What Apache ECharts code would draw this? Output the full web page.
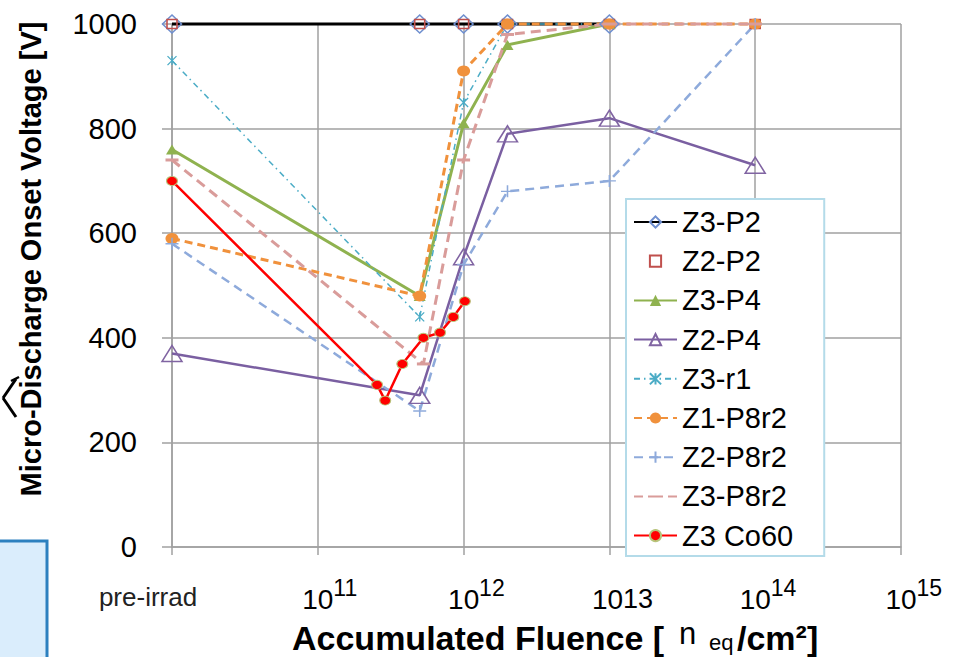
<!DOCTYPE html>
<html>
<head>
<meta charset="utf-8">
<script src="https://cdn.jsdelivr.net/npm/echarts@6/dist/echarts.min.js"></script>
<style>
  html, body { margin: 0; padding: 0; background: #fff; }
  #chart { width: 956px; height: 657px; }
</style>
</head>
<body>
<div id="chart"></div>
<script>
// Fluence used for the un-irradiated reference measurement (left edge of the log axis)
const PRE = 1e10;
const preLabel = 'pre-irrad';

// Sample names (legend order)
const seriesNames = ['Z3-P2', 'Z2-P2', 'Z3-P4', 'Z2-P4', 'Z3-r1', 'Z1-P8r2', 'Z2-P8r2', 'Z3-P8r2', 'Z3 Co60'];

// [accumulated fluence (n_eq/cm²), micro-discharge onset voltage (V)]
const z3p2   = [[PRE, 1000], [5e11, 1000], [1e12, 1000], [2e12, 1000], [1e13, 1000]];
const z2p2   = [[PRE, 1000], [5e11, 1000], [1e12, 1000], [2e12, 1000], [1e13, 1000], [1e14, 1000]];
const z3p4   = [[PRE, 760], [5e11, 480], [1e12, 810], [2e12, 960], [1e13, 1000]];
const z2p4   = [[PRE, 370], [5e11, 290], [1e12, 555], [2e12, 790], [1e13, 820], [1e14, 730]];
const z3r1   = [[PRE, 930], [5e11, 440], [1e12, 850], [2e12, 1000], [1e13, 1000]];
const z1p8r2 = [[PRE, 590], [5e11, 480], [1e12, 910], [2e12, 1000], [1e13, 1000], [1e14, 1000]];
const z2p8r2 = [[PRE, 580], [5e11, 260], [1e12, 540], [2e12, 680], [1e13, 700], [1e14, 1000]];
const z3p8r2 = [[PRE, 740], [5.3e11, 350], [1e12, 740], [2e12, 980], [1e13, 1000], [1e14, 1000]];
const z3co60 = [[PRE, 700], [2.55e11, 310], [2.9e11, 280], [3.8e11, 350], [5.3e11, 400], [6.9e11, 410], [8.5e11, 440], [1.02e12, 470]];

// Voltage axis range
const voltMin = 0, voltMax = 1000, voltStep = 200;

const FONT = '"Liberation Sans", Arial, sans-serif';
const GRID = '#a0a0a0';

// Marker outlines
const ASTERISK = 'path://M0,0L10,10M10,0L0,10M5,0L5,10';
const PLUS = 'path://M0,5L10,5M5,0L5,10';
const DASH = 'path://M0,0H10V2H0Z';
// Legend swatch for the dashed pink series: dashes with a slightly longer centre mark
const DASHED_SWATCH = 'path://M0,0H9V2H0Z M14,0H29V2H14Z M34,0H43V2H34Z';

function lineSeries(name, data, lineColor, width, type, symbol, size, item) {
  return {
    name: name,
    type: 'line',
    data: data,
    clip: false,
    showSymbol: true,
    symbol: symbol,
    symbolSize: size,
    lineStyle: { color: lineColor, width: width, type: type },
    itemStyle: item,
    emphasis: { disabled: true }
  };
}

const legendItems = seriesNames.map(function (n) {
  return n === 'Z3-P8r2' ? { name: n, icon: DASHED_SWATCH } : { name: n };
});

// Empty spacer token used to line up the multi-row (super/subscript) labels
function spacer(w, lh) {
  return { width: w, lineHeight: lh, fontSize: 1, align: 'left' };
}

const chart = echarts.init(document.getElementById('chart'), null, { renderer: 'svg' });

chart.setOption({
  animation: false,
  backgroundColor: '#fff',
  grid: { left: 172, right: 55, top: 24, bottom: 110, outerBoundsMode: 'none', containLabel: false },
  legend: {
    data: legendItems,
    orient: 'vertical',
    left: 626,
    top: 199,
    itemWidth: 43,
    itemHeight: 14,
    itemGap: 10.2,
    padding: [8.5, 31, 6, 7],
    backgroundColor: '#fff',
    borderColor: '#b4dbe9',
    borderWidth: 2,
    textStyle: { fontFamily: FONT, fontSize: 29, lineHeight: 29, color: '#000' }
  },
  xAxis: {
    type: 'log',
    logBase: 10,
    min: PRE,
    max: 1e15,
    splitNumber: 5,
    axisLine: { show: true, lineStyle: { color: GRID, width: 1.5 } },
    axisTick: { show: true, length: 8, lineStyle: { color: GRID, width: 1.5 } },
    splitLine: { show: true, lineStyle: { color: GRID, width: 1.5 } },
    minorTick: { show: false },
    axisLabel: {
      margin: 36,
      color: '#000',
      fontFamily: FONT,
      showMinLabel: true,
      showMaxLabel: true,
      hideOverlap: false,
      formatter: function (v) {
        const e = Math.round(Math.log10(v));
        if (e === 10) return '{pre|' + preLabel + '}{padR|}';
        if (e === 13) return '{padL|}{w10|}{wsupB|}\n{padL|}{base|10}{supB|13}';
        return '{padL|}{w10|}{sup|' + e + '}\n{padL|}{base|10}{wsup|}';
      },
      rich: {
        pre: { fontFamily: FONT, fontSize: 26, lineHeight: 28, color: '#222', align: 'left' },
        padR: spacer(48, 10),
        padL: spacer(26, 10),
        w10: spacer(31, 10),
        wsup: spacer(26, 10),
        wsupB: spacer(30, 10),
        base: { fontFamily: FONT, fontSize: 28, lineHeight: 12, width: 31, color: '#000', align: 'left' },
        sup: { fontFamily: FONT, fontSize: 23, lineHeight: 10, width: 26, color: '#000', align: 'left' },
        supB: { fontFamily: FONT, fontSize: 27, lineHeight: 12, width: 30, color: '#000', align: 'left' }
      }
    },
    name: '{s1|}{n|n}{s2|}\n{b|Accumulated Fluence [}{s3|}{s4|}{t|/cm²]}\n{s5|}{sub|eq}{s6|}',
    nameLocation: 'middle',
    nameGap: 86,
    nameTextStyle: {
      padding: [0, 0, 0, 57],
      rich: {
        s1: spacer(387, 1),
        n: { fontFamily: FONT, fontSize: 31, lineHeight: 1, width: 30, color: '#000', align: 'left' },
        s2: spacer(129, 1),
        b: { fontFamily: FONT, fontSize: 34, fontWeight: 'bold', lineHeight: 8, width: 387, color: '#000', align: 'left' },
        s3: spacer(30, 8),
        s4: spacer(28, 8),
        t: { fontFamily: FONT, fontSize: 34, fontWeight: 'bold', lineHeight: 8, width: 101, color: '#000', align: 'left' },
        s5: spacer(417, 1),
        sub: { fontFamily: FONT, fontSize: 22, lineHeight: 1, width: 28, color: '#000', align: 'left' },
        s6: spacer(101, 1)
      }
    }
  },
  yAxis: {
    type: 'value',
    min: voltMin,
    max: voltMax,
    interval: voltStep,
    axisLine: { show: true, lineStyle: { color: GRID, width: 1.5 } },
    axisTick: { show: true, length: 10, lineStyle: { color: GRID, width: 1.5 } },
    splitLine: { show: true, lineStyle: { color: GRID, width: 1.5 } },
    axisLabel: {
      margin: 35, color: '#000', fontFamily: FONT, fontSize: 29,
      formatter: function (v) { return String(v); }
    },
    name: 'Micro-Discharge Onset Voltage [V]',
    nameLocation: 'middle',
    nameRotate: 90,
    nameGap: 127,
    nameTextStyle: { fontFamily: FONT, fontSize: 29, fontWeight: 'bold', color: '#000', padding: [0, 0, 0, 53] }
  },
  graphic: [
    {
      type: 'rect',
      shape: { x: -4, y: 541, width: 51, height: 130 },
      style: { fill: '#daedfc', stroke: '#2c80bf', lineWidth: 3 },
      silent: true
    },
    {
      type: 'line',
      shape: { x1: 16, y1: 379, x2: 3, y2: 398 },
      style: { stroke: '#000', lineWidth: 3 },
      silent: true
    },
    {
      type: 'line',
      shape: { x1: 3, y1: 398, x2: 16, y2: 417 },
      style: { stroke: '#000', lineWidth: 3 },
      silent: true
    },
    {
      type: 'line',
      shape: { x1: 11, y1: 381, x2: 19, y2: 377 },
      style: { stroke: '#000', lineWidth: 2.5 },
      silent: true
    }
  ],
  series: [
    lineSeries(seriesNames[0], z3p2, '#000000', 3, 'solid', 'diamond', [19, 18],
      { color: 'rgba(255,255,255,0)', borderColor: '#6f8fcf', borderWidth: 1.5 }),
    lineSeries(seriesNames[1], z2p2, '#c0504d', 0, 'solid', 'rect', [10, 9],
      { color: 'rgba(255,255,255,0)', borderColor: '#c0504d', borderWidth: 1.5 }),
    lineSeries(seriesNames[2], z3p4, '#8fb24f', 3, 'solid', 'triangle', [12, 10],
      { color: '#8fb24f', borderColor: '#8fb24f', borderWidth: 0 }),
    lineSeries(seriesNames[3], z2p4, '#7a5fa1', 2.5, 'solid', 'triangle', [20, 16],
      { color: 'rgba(255,255,255,0)', borderColor: '#8064a2', borderWidth: 1.5 }),
    lineSeries(seriesNames[4], z3r1, '#4bacc6', 1.5, [6, 4, 1.5, 4], ASTERISK, [9, 9],
      { color: '#4bacc6', borderColor: '#4bacc6', borderWidth: 1.3 }),
    lineSeries(seriesNames[5], z1p8r2, '#f0913c', 3, [8, 5], 'circle', [13, 11],
      { color: '#f0913c', borderColor: '#f0913c', borderWidth: 0 }),
    lineSeries(seriesNames[6], z2p8r2, '#8eaadb', 2.5, [9, 6], PLUS, [13, 12],
      { color: '#8eaadb', borderColor: '#8eaadb', borderWidth: 1.5 }),
    lineSeries(seriesNames[7], z3p8r2, '#d99c9a', 3, [10, 6], DASH, [13, 3],
      { color: '#d99c9a', borderColor: '#d99c9a', borderWidth: 0 }),
    lineSeries(seriesNames[8], z3co60, '#ff0000', 2.5, 'solid', 'circle', [11, 9],
      { color: '#ff0000', borderColor: '#b7c47a', borderWidth: 1 })
  ]
});
</script>
</body>
</html>
